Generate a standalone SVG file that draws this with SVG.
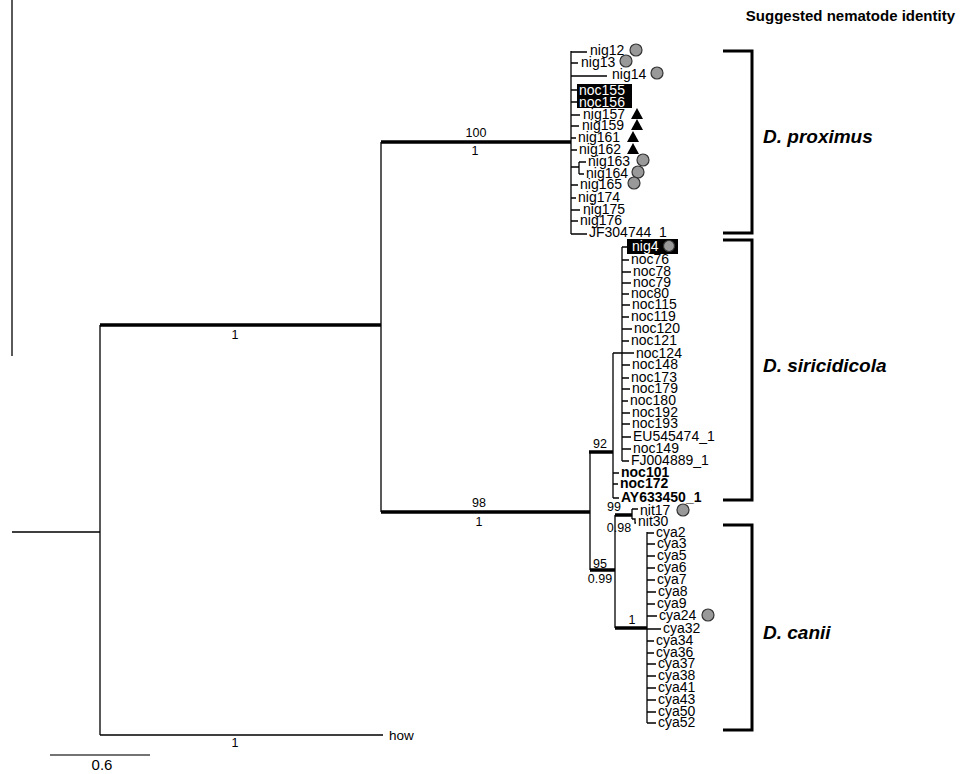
<svg xmlns="http://www.w3.org/2000/svg" width="960" height="774" viewBox="0 0 960 774">
<style>
text{font-family:"Liberation Sans",Arial,sans-serif;fill:#000}
.l{font-size:14px}
.lb{font-size:14px;font-weight:bold}
.w{font-size:14px;fill:#fff}
.s{font-size:12.5px;text-anchor:middle}
.sp{font-size:19px;font-weight:bold;font-style:italic}
.ttl{font-size:15px;font-weight:bold;text-anchor:end}
.tn{stroke:#000;stroke-width:1.3;fill:none}
.tk{stroke:#000;stroke-width:3.5;fill:none}
.br{stroke:#000;stroke-width:3;fill:none}
.c{fill:#999;stroke:#333;stroke-width:1.2}
.tri{fill:#000}
</style>
<text class="ttl" x="955" y="21">Suggested nematode identity</text>

<g id="connectors">
<path class="tn" d="M12,0 V356" stroke="#888"/>
<path class="tn" d="M12,532 H100 M100,325 V735 M100,735 H383 M381,142 V512"/>
<path class="tk" d="M100,325 H381 M381,142 H571 M381,512 H590"/>
<path d="M50,755 H150" stroke="#444" stroke-width="1.5"/>
<path class="tn" d="M571,51 V234 M571,52 H587 M571,63 H578 M571,76 H607 M571,90 H577 M571,102 H577 M571,115 H580 M571,126 H579 M571,138 H576 M571,150 H577 M571,167 H579 M579,162 V174 M579,162 H586 M579,174 H584 M571,185 H578 M571,198 H576 M571,210 H580 M571,221 H578 M571,234 H587"/>
<path class="tn" d="M622,247 V461 M622,247 H627 M622,260 H629 M622,272 H631 M622,283 H631 M622,294 H629 M622,305 H630 M622,317 H629 M622,329 H632 M622,341 H629 M613,353 H634 M622,365 H630 M622,378 H629 M622,389 H630 M622,401 H628 M622,413 H630 M622,424 H630 M622,437 H631 M622,449 H631 M622,461 H629 M613,353 V498 M613,473 H619 M613,484 H618 M613,498 H619"/>
<path class="tk" d="M589,452 H613"/>
<path class="tn" d="M590,452 V570" stroke-width="1.6"/>
<path class="tk" d="M590,570 H615"/>
<text class="s" x="619" y="532">0.98</text>
<path class="tn" d="M615,515 V628" stroke-width="1.6"/>
<path class="tk" d="M615,515 H632 M615,628 H647"/>
<path class="tn" d="M632,509 V519 M632,509 H638 M632,519 H635 V523 H636"/>
<path class="tn" d="M647,532 V723 M647,533 H654 M647,544 H655 M647,556 H655 M647,568 H655 M647,580 H655 M647,592 H656 M647,604 H655 M647,616 H657 M647,629 H661 M647,641 H654 M647,653 H654 M647,664 H656 M647,676 H656 M647,688 H656 M647,700 H656 M647,712 H656 M647,723 H656"/>
<path class="br" d="M723,51 H752 V233 H723"/>
<path class="br" d="M723,240 H752 V500 H723"/>
<path class="br" d="M723,525 H752 V730 H723"/>
</g>

<g id="support-labels">
<text class="s" x="235" y="339">1</text>
<text class="s" x="476" y="137">100</text>
<text class="s" x="475" y="155">1</text>
<text class="s" x="479" y="507">98</text>
<text class="s" x="479" y="526">1</text>
<text class="s" x="600" y="448">92</text>
<text class="s" x="614" y="511">99</text>
<text class="s" x="600" y="568">95</text>
<text class="s" x="600" y="583">0.99</text>
<text class="s" x="632" y="624">1</text>
<text class="s" x="235" y="747">1</text>
<text x="102" y="770" style="font-size:15px;text-anchor:middle">0.6</text>
</g>

<g id="outgroup"><text x="389" y="740" style="font-size:13.5px">how</text></g>

<g id="clade-proximus">
<g id="nig12"><text class="l" x="590" y="55">nig12</text><circle class="c" cx="636" cy="50" r="6"/></g>
<g id="nig13"><text class="l" x="581" y="67">nig13</text><circle class="c" cx="626" cy="61" r="6"/></g>
<g id="nig14"><text class="l" x="612" y="79">nig14</text><circle class="c" cx="657" cy="73" r="6"/></g>
<g id="noc155-156"><rect x="577" y="84" width="55" height="24" fill="#000"/><text class="w" x="579" y="95">noc155</text><text class="w" x="579" y="107">noc156</text></g>
<g id="nig157"><text class="l" x="583" y="119">nig157</text><polygon class="tri" points="631,119 643,119 637,108"/></g>
<g id="nig159"><text class="l" x="582" y="130">nig159</text><polygon class="tri" points="631,130 643,130 637,119"/></g>
<g id="nig161"><text class="l" x="578" y="142">nig161</text><polygon class="tri" points="627,142 639,142 633,131"/></g>
<g id="nig162"><text class="l" x="579" y="154">nig162</text><polygon class="tri" points="627,154 639,154 633,143"/></g>
<g id="nig163"><text class="l" x="588" y="166">nig163</text><circle class="c" cx="643" cy="160" r="6"/></g>
<g id="nig164"><text class="l" x="586" y="178">nig164</text><circle class="c" cx="638" cy="172" r="6"/></g>
<g id="nig165"><text class="l" x="580" y="189">nig165</text><circle class="c" cx="634" cy="183" r="6"/></g>
<g id="nig174"><text class="l" x="578" y="202">nig174</text></g>
<g id="nig175"><text class="l" x="583" y="214">nig175</text></g>
<g id="nig176"><text class="l" x="580" y="225">nig176</text></g>
<g id="JF304744_1"><text class="l" x="589" y="237">JF304744_1</text></g>
</g>

<g id="clade-siricidicola">
<g id="nig4"><rect x="627" y="239" width="51" height="15" fill="#000"/><text class="w" x="632" y="251">nig4</text><circle class="c" cx="669" cy="246" r="5.5"/></g>
<g id="noc76"><text class="l" x="631" y="264">noc76</text></g>
<g id="noc78"><text class="l" x="633" y="276">noc78</text></g>
<g id="noc79"><text class="l" x="633" y="287">noc79</text></g>
<g id="noc80"><text class="l" x="631" y="298">noc80</text></g>
<g id="noc115"><text class="l" x="632" y="309">noc115</text></g>
<g id="noc119"><text class="l" x="631" y="321">noc119</text></g>
<g id="noc120"><text class="l" x="634" y="333">noc120</text></g>
<g id="noc121"><text class="l" x="631" y="345">noc121</text></g>
<g id="noc124"><text class="l" x="636" y="358">noc124</text></g>
<g id="noc148"><text class="l" x="632" y="369">noc148</text></g>
<g id="noc173"><text class="l" x="631" y="382">noc173</text></g>
<g id="noc179"><text class="l" x="632" y="393">noc179</text></g>
<g id="noc180"><text class="l" x="630" y="405">noc180</text></g>
<g id="noc192"><text class="l" x="632" y="417">noc192</text></g>
<g id="noc193"><text class="l" x="632" y="428">noc193</text></g>
<g id="EU545474_1"><text class="l" x="633" y="441">EU545474_1</text></g>
<g id="noc149"><text class="l" x="633" y="453">noc149</text></g>
<g id="FJ004889_1"><text class="l" x="631" y="465">FJ004889_1</text></g>
<g id="noc101"><text class="lb" x="621" y="477">noc101</text></g>
<g id="noc172"><text class="lb" x="620" y="488">noc172</text></g>
<g id="AY633450_1"><text class="lb" x="621" y="502">AY633450_1</text></g>
</g>

<g id="clade-nit">
<g id="nit17"><text class="l" x="640" y="515">nit17</text><circle class="c" cx="683" cy="510" r="6"/></g>
<g id="nit30"><text class="l" x="638" y="526">nit30</text></g>
</g>

<g id="clade-canii">
<g id="cya2"><text class="l" x="656" y="537">cya2</text></g>
<g id="cya3"><text class="l" x="657" y="548">cya3</text></g>
<g id="cya5"><text class="l" x="657" y="560">cya5</text></g>
<g id="cya6"><text class="l" x="657" y="572">cya6</text></g>
<g id="cya7"><text class="l" x="657" y="584">cya7</text></g>
<g id="cya8"><text class="l" x="658" y="596">cya8</text></g>
<g id="cya9"><text class="l" x="657" y="608">cya9</text></g>
<g id="cya24"><text class="l" x="659" y="620">cya24</text><circle class="c" cx="708" cy="615" r="6"/></g>
<g id="cya32"><text class="l" x="663" y="633">cya32</text></g>
<g id="cya34"><text class="l" x="656" y="645">cya34</text></g>
<g id="cya36"><text class="l" x="656" y="657">cya36</text></g>
<g id="cya37"><text class="l" x="658" y="668">cya37</text></g>
<g id="cya38"><text class="l" x="658" y="680">cya38</text></g>
<g id="cya41"><text class="l" x="658" y="692">cya41</text></g>
<g id="cya43"><text class="l" x="658" y="704">cya43</text></g>
<g id="cya50"><text class="l" x="658" y="716">cya50</text></g>
<g id="cya52"><text class="l" x="658" y="727">cya52</text></g>
</g>

<g id="species-labels">
<text class="sp" x="763" y="143">D. proximus</text>
<text class="sp" x="763" y="372">D. siricidicola</text>
<text class="sp" x="763" y="639">D. canii</text>
</g>
</svg>
